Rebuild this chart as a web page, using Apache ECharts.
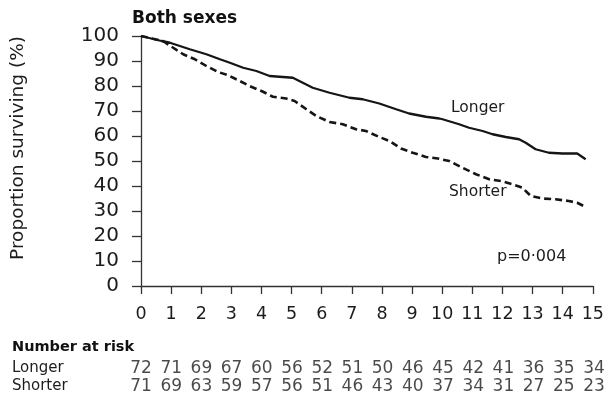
<!DOCTYPE html>
<html>
<head>
<meta charset="utf-8">
<script src="https://cdn.jsdelivr.net/npm/echarts@6/dist/echarts.min.js"></script>
<style>html,body{margin:0;padding:0;background:#fff}#c{width:607px;height:401px}</style>
</head>
<body>
<div id="c"></div>
<script>
// Survival curves (years, % surviving)
const longerT = [0, 0.68, 0.96, 1.62, 2.17, 2.62, 2.95, 3.39, 3.83, 4.27, 4.93, 5.04, 5.37, 5.7, 6.26, 6.92, 7.36, 7.91, 8.47, 8.9, 9.46, 9.9, 10.01, 10.56, 10.89, 11.34, 11.67, 12.11, 12.55, 12.77, 13.1, 13.54, 13.99, 14.48, 14.76];
const longerS = [100, 98, 97.3, 94.7, 92.7, 90.7, 89.3, 87.3, 86, 84, 83.4, 83.3, 81.3, 79.3, 77.3, 75.3, 74.7, 73, 70.7, 69, 67.7, 67, 66.7, 64.7, 63.3, 62, 60.7, 59.6, 58.7, 57.3, 54.7, 53.3, 53, 53, 50.7];
const shorterT = [0, 0.73, 1.07, 1.4, 1.79, 2.17, 2.56, 2.89, 3.28, 3.6, 4, 4.38, 4.82, 5.1, 5.49, 5.82, 6.26, 6.7, 7.14, 7.47, 7.91, 8.25, 8.63, 9.02, 9.46, 9.85, 10.23, 10.67, 11.12, 11.56, 11.94, 12.33, 12.66, 12.94, 13.32, 13.76, 14.2, 14.48, 14.76];
const shorterS = [100, 98, 95.3, 92.7, 90.7, 88, 85.6, 84.3, 82, 80, 78, 75.7, 75, 74, 70.7, 68, 65.6, 64.7, 62.7, 62, 59.6, 58, 55, 53.3, 51.6, 51, 50, 47.3, 44.7, 42.7, 42, 40.7, 39.3, 36, 35, 34.7, 34, 33.3, 31.6];
// Number at risk at years 0..15
const riskYears = [0,1,2,3,4,5,6,7,8,9,10,11,12,13,14,15];
const riskLonger = [72,71,69,67,60,56,52,51,50,46,45,42,41,36,35,34];
const riskShorter = [71,69,63,59,57,56,51,46,43,40,37,34,31,27,25,23];
const yTicks = [0,10,20,30,40,50,60,70,80,90,100];
const xTicks = [0,1,2,3,4,5,6,7,8,9,10,11,12,13,14,15];

const FONT = '"DejaVu Sans", sans-serif';
const TXT = '#1c1c1c';
const chart = echarts.init(document.getElementById('c'), null, {renderer: 'canvas'});
const zip = (a, b) => a.map((v, i) => [v, b[i]]);

chart.setOption({
  backgroundColor: '#fff',
  animation: false,
  grid: [
    {left: 141, right: 13, top: 36, bottom: 115},
    {left: 141, right: 13, top: 368.5, height: 18}
  ],
  xAxis: [
    {type: 'value', min: 0, max: 15, interval: 1, offset: 8,
     axisLine: {show: true, lineStyle: {color: '#333', width: 1.3}},
     axisTick: {show: true, length: 8, lineStyle: {color: '#333', width: 1.3}},
     axisLabel: {margin: 11, fontSize: 17.5, color: TXT, fontFamily: FONT,
       formatter: v => xTicks.includes(v) ? String(v) : ''},
     splitLine: {show: false}},
    {gridIndex: 1, type: 'value', min: 0, max: 15, show: false}
  ],
  yAxis: [
    {type: 'value', min: 0, max: 100, interval: 10, offset: 8,
     axisLine: {show: true, lineStyle: {color: '#333', width: 1.3}},
     axisTick: {show: true, length: 9, lineStyle: {color: '#333', width: 1.3}},
     axisLabel: {margin: 14, fontSize: 20, color: TXT, fontFamily: FONT,
       formatter: v => yTicks.includes(v) ? String(v) : ''},
     splitLine: {show: false}},
    {gridIndex: 1, type: 'value', min: 0, max: 1, show: false}
  ],
  series: [
    {name: 'Longer', type: 'line', data: zip(longerT, longerS), showSymbol: false,
     lineStyle: {color: '#151515', width: 2.3}},
    {name: 'Shorter', type: 'line', data: zip(shorterT, shorterS), showSymbol: false,
     lineStyle: {color: '#151515', width: 2.6, type: [7, 4]}},
    {type: 'scatter', xAxisIndex: 1, yAxisIndex: 1, symbolSize: 1, itemStyle: {color: 'rgba(0,0,0,0)'},
     data: riskYears.map((t, i) => [t, 1, riskLonger[i]]),
     label: {show: true, position: 'inside', formatter: p => String(p.value[2]), fontSize: 17, color: TXT, fontFamily: FONT}},
    {type: 'scatter', xAxisIndex: 1, yAxisIndex: 1, symbolSize: 1, itemStyle: {color: 'rgba(0,0,0,0)'},
     data: riskYears.map((t, i) => [t, 0, riskShorter[i]]),
     label: {show: true, position: 'inside', formatter: p => String(p.value[2]), fontSize: 17, color: TXT, fontFamily: FONT}}
  ],
  graphic: [
    {type: 'text', left: 132, top: 10, style: {text: 'Both sexes', font: 'bold 17px ' + FONT, fill: '#111'}},
    {type: 'text', x: 18, y: 148, rotation: Math.PI / 2,
     style: {text: 'Proportion surviving (%)', font: '18.5px ' + FONT, fill: TXT, align: 'center', verticalAlign: 'middle'}},
    {type: 'text', x: 451, y: 108, style: {text: 'Longer', font: '15.5px ' + FONT, fill: TXT, verticalAlign: 'middle'}},
    {type: 'text', x: 449, y: 192, style: {text: 'Shorter', font: '15.5px ' + FONT, fill: TXT, verticalAlign: 'middle'}},
    {type: 'text', x: 497, y: 257, style: {text: 'p=0·004', font: '16px ' + FONT, fill: TXT, verticalAlign: 'middle'}},
    {type: 'text', x: 12, y: 347, style: {text: 'Number at risk', font: 'bold 14.5px ' + FONT, fill: '#111', verticalAlign: 'middle'}},
    {type: 'text', x: 12, y: 368.5, style: {text: 'Longer', font: '15px ' + FONT, fill: TXT, verticalAlign: 'middle'}},
    {type: 'text', x: 12, y: 386.5, style: {text: 'Shorter', font: '15px ' + FONT, fill: TXT, verticalAlign: 'middle'}}
  ]
});
</script>
</body>
</html>
